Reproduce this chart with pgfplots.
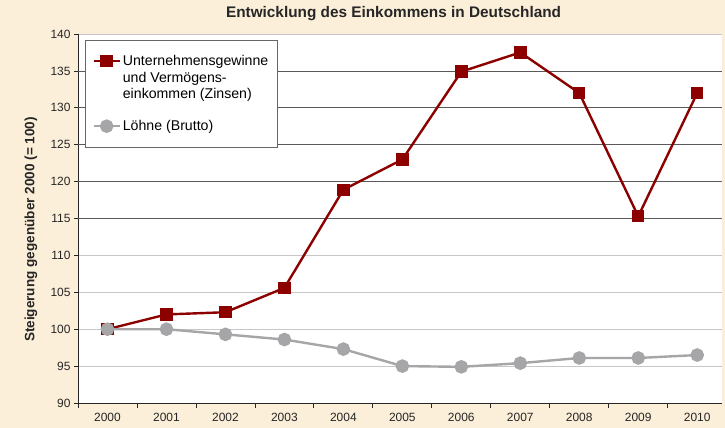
\documentclass[border=0pt]{standalone}
\usepackage{pgfplots}
\pgfplotsset{compat=1.18}
\usepackage{fontspec}
\setmainfont{Liberation Sans}
\definecolor{bg}{HTML}{FCEFD9}
\definecolor{dred}{HTML}{8C0000}
\definecolor{lgray}{HTML}{A6A6A8}
\begin{document}
\begin{tikzpicture}
\fill[bg] (0,0) rectangle (725bp,428bp);
\begin{axis}[
  at={(78bp,25bp)}, anchor=south west,
  width=644bp, height=369bp, scale only axis,
  xmin=1999.5, xmax=2010.42, ymin=90, ymax=140,
  axis background/.style={fill=white},
  axis x line*=bottom, axis y line*=left,
  axis line style={black!85, line width=0.8bp},
  tick align=outside,
  major tick length=4bp, minor tick length=5bp,
  tick style={black!85, line width=0.8bp},
  /pgf/number format/assume math mode=true,
  /pgf/number format/1000 sep={},
  xtick={2000,...,2010},
  every major x tick/.style={draw=none},
  minor xtick={1999.5,2000.5,...,2010.5},
  ytick={90,95,...,140},
  ymajorgrids,
  major grid style={black!22, line width=0.8bp},
  extra y ticks={115,120,125,130,135},
  extra y tick labels={},
  extra y tick style={grid=major, major grid style={black!65, line width=0.8bp}},
  ticklabel style={font=\fontsize{12}{14}\selectfont, text=black!85},
  xticklabel style={yshift=-3bp},
  title={Entwicklung des Einkommens in Deutschland},
  title style={font=\fontsize{15.4}{18}\selectfont\bfseries, text=black!85, anchor=base, at={(0.49,1)}, yshift=11bp},
  ylabel={Steigerung gegenüber 2000 (= 100)},
  ylabel style={font=\fontsize{13.6}{16}\selectfont\bfseries, text=black!85, at={(axis description cs:-0.073,0.47)}, anchor=center, rotate=0},
  legend style={at={(axis description cs:0.011,0.984)}, anchor=north west,
    draw=black!60, fill=white, line width=0.8bp,
    font=\fontsize{14.2}{16.7}\selectfont,
    cells={anchor=west, align=left},
    row sep=16bp, inner xsep=7bp, inner ysep=13bp},
  legend image code/.code={\draw[mark repeat=2,mark phase=2,#1] plot coordinates {(0bp,0bp) (13bp,0bp) (26bp,0bp)};},
  clip=true,
]
\addplot[dred, line width=2.4bp, mark=square*, mark size=5bp, mark options={solid, fill=dred}, legend image post style={yshift=16.7bp}]
  coordinates {(2000,100) (2001,102) (2002,102.3) (2003,105.6) (2004,118.9) (2005,123) (2006,134.9) (2007,137.5) (2008,132) (2009,115.3) (2010,132)};
\addlegendentry{Unternehmensgewinne\\und Vermögens-\\einkommen (Zinsen)}
\addplot[lgray, line width=2.4bp, mark=*, mark size=5.6bp, mark options={solid, fill=lgray}]
  coordinates {(2000,100) (2001,100) (2002,99.3) (2003,98.6) (2004,97.3) (2005,95) (2006,94.9) (2007,95.4) (2008,96.1) (2009,96.1) (2010,96.5)};
\addlegendentry{Löhne (Brutto)}
\end{axis}
\end{tikzpicture}
\end{document}
